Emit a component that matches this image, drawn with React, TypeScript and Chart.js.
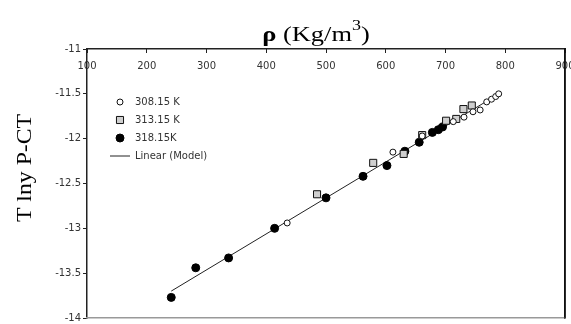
import React, { useEffect, useRef } from 'react';
import { Chart, registerables } from 'chart.js';

Chart.register(...registerables);

// ---- data ----
const seriesLabels = ['308.15 K', '313.15 K', '318.15K', 'Linear (Model)'];

const rho308 = [435, 612, 661, 713, 731, 746, 758, 769, 777, 784, 789];
const lny308 = [-12.94, -12.15, -11.97, -11.81, -11.76, -11.7, -11.68, -11.59, -11.56, -11.53, -11.5];

const rho313 = [485, 579, 630, 661, 701, 718, 730, 744];
const lny313 = [-12.62, -12.27, -12.17, -11.96, -11.8, -11.78, -11.67, -11.63];

const rho318 = [241, 282, 337, 414, 500, 562, 602, 632, 656, 678, 688, 695];
const lny318 = [-13.77, -13.44, -13.33, -13.0, -12.66, -12.42, -12.3, -12.14, -12.04, -11.93, -11.9, -11.87];

const modelRho = [241, 792];
const modelLny = [-13.7, -11.49];

const xMin = 100;
const xMax = 900;
const xStep = 100;
const yMin = -14;
const yMax = -11;
const yStep = 0.5;

const titleText = { rho: 'ρ', open: ' (Kg/m', sup: '3', close: ')' };
const yTitleText = 'T lny P-CT';

const tickFont = { family: '"DejaVu Sans", sans-serif', size: 10 };

const toPts = (xs: number[], ys: number[]) => xs.map((x, i) => ({ x, y: ys[i] }));

const zeroPad = (s: any) => {
  s.paddingLeft = 0;
  s.paddingRight = 0;
  s.paddingTop = 0;
  s.paddingBottom = 0;
};

const frameRightPlugin = {
  id: 'frameRight',
  afterDraw(chart: any) {
    const ctx = chart.ctx as CanvasRenderingContext2D;
    const a = chart.chartArea;
    ctx.save();
    ctx.strokeStyle = '#111';
    ctx.lineWidth = 1.5;
    ctx.beginPath();
    ctx.moveTo(a.right, a.top - 1);
    ctx.lineTo(a.right, a.bottom);
    ctx.stroke();
    ctx.restore();
  },
};

const textPlugin = {
  id: 'customText',
  afterDraw(chart: any) {
    const ctx = chart.ctx as CanvasRenderingContext2D;
    const area = chart.chartArea;
    ctx.save();
    ctx.fillStyle = '#000';
    ctx.textBaseline = 'alphabetic';

    // title
    const big = '22px "Liberation Serif", serif';
    const bold = 'bold 22px "Liberation Serif", serif';
    const small = '15px "Liberation Serif", serif';
    const parts = [
      { t: titleText.rho, f: bold, dy: 0 },
      { t: titleText.open, f: big, dy: 0 },
      { t: titleText.sup, f: small, dy: -11 },
      { t: titleText.close, f: big, dy: 0 },
    ];
    let w = 0;
    parts.forEach((p) => { ctx.font = p.f; w += ctx.measureText(p.t).width; });
    ctx.save();
    ctx.translate(316, 41);
    ctx.scale(1.2, 1);
    let cx = -w / 2;
    ctx.textAlign = 'left';
    parts.forEach((p) => {
      ctx.font = p.f;
      ctx.fillText(p.t, cx, p.dy);
      cx += ctx.measureText(p.t).width;
    });
    ctx.restore();

    // y title
    ctx.save();
    ctx.translate(31, 168);
    ctx.rotate(-Math.PI / 2);
    ctx.scale(1.08, 1);
    ctx.font = '22px "Liberation Serif", serif';
    ctx.textAlign = 'center';
    ctx.fillText(yTitleText, 0, 0);
    ctx.restore();

    // legend
    const lx = area.left + 33;
    const ly = area.top + 53;
    const gap = 18;
    ctx.font = '10px "DejaVu Sans", sans-serif';
    ctx.textAlign = 'left';
    ctx.textBaseline = 'middle';
    chart.data.datasets.forEach((ds: any, i: number) => {
      const y = ly + i * gap;
      ctx.strokeStyle = ds.borderColor;
      ctx.fillStyle = ds.backgroundColor;
      ctx.lineWidth = ds.borderWidth || 1;
      if (ds.showLine) {
        ctx.beginPath();
        ctx.moveTo(lx - 10, y);
        ctx.lineTo(lx + 10, y);
        ctx.stroke();
      } else if (ds.pointStyle === 'rect') {
        const s = ds.pointRadius * Math.SQRT1_2;
        ctx.beginPath();
        ctx.rect(lx - s, y - s, 2 * s, 2 * s);
        ctx.fill();
        ctx.stroke();
      } else {
        ctx.beginPath();
        ctx.arc(lx, y, ds.pointRadius, 0, Math.PI * 2);
        ctx.fill();
        ctx.stroke();
      }
      ctx.fillStyle = '#333';
      ctx.fillText(ds.label, lx + 15, y + 0.5);
    });
    ctx.restore();
  },
};

export default function App() {
  const ref = useRef<HTMLCanvasElement | null>(null);

  useEffect(() => {
    document.body.style.margin = '0';
    if (!ref.current) return;
    const chart = new Chart(ref.current, {
      type: 'scatter',
      data: {
        datasets: [
          {
            label: seriesLabels[0],
            data: toPts(rho308, lny308),
            pointStyle: 'circle',
            pointRadius: 3,
            backgroundColor: '#ffffff',
            borderColor: '#111111',
            borderWidth: 1,
            order: 1,
          },
          {
            label: seriesLabels[1],
            data: toPts(rho313, lny313),
            pointStyle: 'rect',
            pointRadius: 5,
            backgroundColor: '#cfcfcf',
            borderColor: '#111111',
            borderWidth: 1,
            order: 2,
          },
          {
            label: seriesLabels[2],
            data: toPts(rho318, lny318),
            pointStyle: 'circle',
            pointRadius: 4,
            backgroundColor: '#000000',
            borderColor: '#000000',
            borderWidth: 1,
            order: 3,
          },
          {
            label: seriesLabels[3],
            data: toPts(modelRho, modelLny),
            showLine: true,
            pointRadius: 0,
            borderColor: '#222222',
            backgroundColor: '#222222',
            borderWidth: 1,
            order: 10,
          },
        ] as any,
      },
      options: {
        animation: false,
        responsive: false,
        devicePixelRatio: 1,
        layout: { padding: { top: 49, right: 5, bottom: 3, left: 0 } },
        plugins: {
          legend: { display: false },
          title: { display: false },
          tooltip: { enabled: false },
        },
        scales: {
          x: {
            type: 'linear',
            position: 'top',
            min: xMin,
            max: xMax,
            ticks: {
              stepSize: xStep,
              mirror: true,
              padding: 11,
              font: tickFont,
              color: '#333',
              autoSkip: false,
              maxRotation: 0,
              callback: (v: any) => String(v),
            },
            grid: { drawOnChartArea: false, tickLength: -4, tickColor: '#222', color: '#222' },
            border: { color: '#222', width: 1.5 },
            afterFit: (s: any) => {
              s.height = 0;
              zeroPad(s);
            },
          },
          y: {
            type: 'linear',
            position: 'left',
            min: yMin,
            max: yMax,
            ticks: {
              stepSize: yStep,
              padding: 2,
              font: tickFont,
              color: '#333',
              callback: (v: any) => String(v),
            },
            grid: { drawOnChartArea: false, tickLength: 4, tickColor: '#222', color: '#222' },
            border: { color: '#222', width: 1.5 },
            afterFit: (s: any) => {
              s.width = 87;
              zeroPad(s);
            },
          },
          y2: {
            axis: 'y',
            type: 'linear',
            position: 'right',
            min: yMin,
            max: yMax,
            ticks: { display: false },
            grid: { display: true, drawOnChartArea: false, drawTicks: false },
            border: { color: '#111', width: 1.5 },
            afterFit: (s: any) => {
              s.width = 0;
              zeroPad(s);
            },
          },
          x2: {
            axis: 'x',
            type: 'linear',
            position: 'bottom',
            min: xMin,
            max: xMax,
            ticks: { display: false },
            grid: { display: true, drawOnChartArea: false, drawTicks: false },
            border: { color: '#999', width: 1.5 },
            afterFit: (s: any) => {
              s.height = 0;
              zeroPad(s);
            },
          },
        } as any,
      },
      plugins: [frameRightPlugin, textPlugin],
    });
    return () => chart.destroy();
  }, []);

  return (
    <div style={{ position: 'absolute', left: 0, top: 0, width: 571, height: 324, background: '#fff' }}>
      <canvas ref={ref} width={571} height={324} style={{ display: 'block' }} />
    </div>
  );
}
